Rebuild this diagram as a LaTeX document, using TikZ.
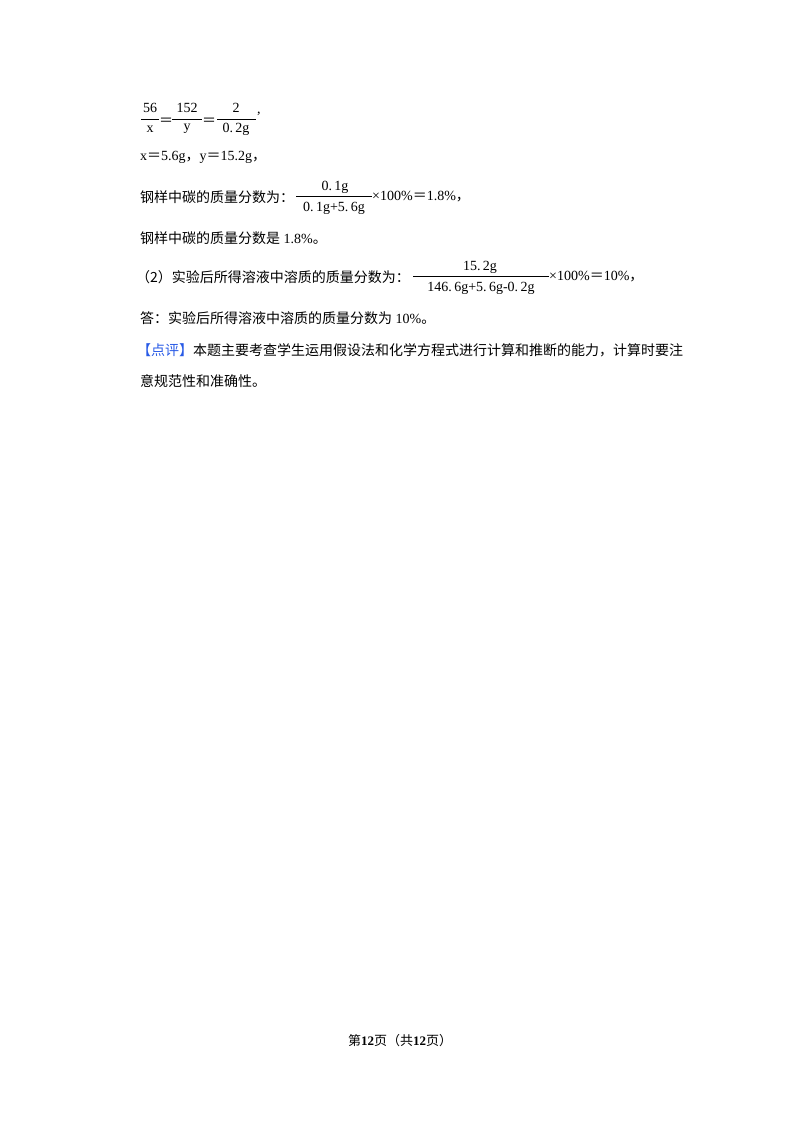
\documentclass[tikz,border=0pt]{standalone}
\usepackage{fontspec}
\setmainfont{Liberation Serif}
\newfontfamily\cjk{Noto Sans CJK SC}
\newcommand{\eqq}{{\cjk ＝}}
\begin{document}
\begin{tikzpicture}[x=1pt,y=-1pt,
  t/.style={anchor=west,inner sep=0pt,font=\fontsize{14}{16}\selectfont},
  fr/.style={anchor=center,inner sep=0pt,font=\fontsize{14}{16}\selectfont}]
\useasboundingbox (0,0) rectangle (800,1132);
% line 1
\node[fr] (n1) at (150,108) {56};
\node[fr] (d1) at (150,129) {x};
\draw[line width=0.8] (141,119) -- (159,119);
\node[t] (e1) at (159,122) {\eqq};
\node[fr] (n2) at (187,108) {152};
\node[fr] (d2) at (187,129) {y};
\draw[line width=0.8] (172,119) -- (202,119);
\node[t] at (202,122) {\eqq};
\node[fr] (n3) at (236,108) {2};
\node[fr] (d3) at (236,129) {0.\,2g};
\draw[line width=0.8] (217,119) -- (256,119);
\node[t] at (257,114) {,};
% line 2
\node[t] (l2) at (140,157) {x\eqq 5.6g{\cjk ，}y\eqq 15.2g{\cjk ，}};
% line 3
\node[t] (l3) at (140,197) {\cjk 钢样中碳的质量分数为：};
\node[fr] (n4) at (335,187) {0.\,1g};
\draw[line width=0.8] (296,196) -- (372,196);
\node[fr] (d4) at (334,208) {0.\,1g+5.\,6g};
\node[t] (r4) at (372,197) {×100\%\eqq 1.8\%{\cjk ，}};
% line 4
\node[t] (l4) at (140,238) {{\cjk 钢样中碳的质量分数是} 1.8\%{\cjk 。}};
% line 5
\node[t] (l5) at (136,277) {{\cjk （2）实验后所得溶液中溶质的质量分数为：}};
\node[fr] (n5) at (480,267) {15.\,2g};
\draw[line width=0.8] (413,276) -- (549,276);
\node[fr] (d5) at (481,288) {146.\,6g+5.\,6g-0.\,2g};
\node[t] (r5) at (549,277) {×100\%\eqq 10\%{\cjk ，}};
% line 6
\node[t] (l6) at (140,318) {{\cjk 答：实验后所得溶液中溶质的质量分数为} 10\%{\cjk 。}};
% line 7-8
\node[t] (l7) at (137,350) {{\cjk\color[RGB]{40,90,230}【点评】}{\cjk 本题主要考查学生运用假设法和化学方程式进行计算和推断的能力，计算时要注}};
\node[t] (l8) at (140,381) {\cjk 意规范性和准确性。};
% footer
\node[anchor=center,inner sep=0pt,font=\fontsize{13}{15}\selectfont] (ft) at (400,1041) {{\cjk 第}\textbf{12}{\cjk 页（共}\textbf{12}{\cjk 页）}};
\end{tikzpicture}
\end{document}
